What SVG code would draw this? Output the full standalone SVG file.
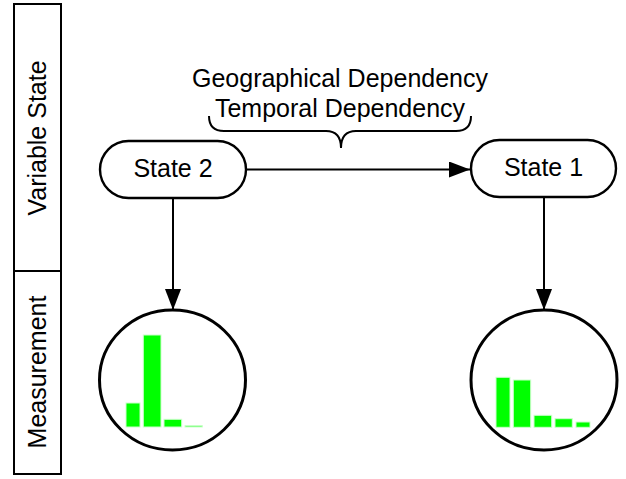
<svg xmlns="http://www.w3.org/2000/svg" width="626" height="479" viewBox="0 0 626 479">
<style>
.box{fill:#fff;stroke:#000;stroke-width:2}
.node{fill:#fff;stroke:#000;stroke-width:2.4}
.circ{fill:#fff;stroke:#000;stroke-width:3}
.lbl{font-family:"Liberation Sans",Arial,sans-serif;font-size:25px;fill:#000}
.bar{fill:#00ff00;stroke:#ccffcc;stroke-width:1}
.line{fill:none;stroke:#000;stroke-width:2}
</style>
<defs>
<marker id="ah" markerWidth="21" markerHeight="16" refX="21" refY="8" orient="auto" markerUnits="userSpaceOnUse">
<path d="M0,0 L21,8 L0,16 Z" fill="#000"/>
</marker>
</defs>
<g id="lane-variable-state">
<rect class="box" x="14" y="4" width="47" height="267"/>
<text class="lbl" transform="translate(46,138) rotate(-90)" text-anchor="middle">Variable State</text>
</g>
<g id="lane-measurement">
<rect class="box" x="14" y="271" width="47" height="203"/>
<text class="lbl" transform="translate(46,372) rotate(-90)" text-anchor="middle">Measurement</text>
</g>
<g id="dependency-label">
<text class="lbl" x="340" y="87" text-anchor="middle">Geographical Dependency</text>
<text class="lbl" x="340" y="117" text-anchor="middle">Temporal Dependency</text>
<path class="line" d="M209,116 Q209,131 224,131 L326,131 Q341,131 341,148 Q341,131 356,131 L456,131 Q471,131 471,116"/>
</g>
<g id="state2">
<rect class="node" x="100" y="141" width="146" height="57" rx="28.5" ry="28.5"/>
<text class="lbl" x="173" y="177" text-anchor="middle">State 2</text>
</g>
<g id="state1">
<rect class="node" x="471" y="140" width="145" height="57" rx="28.5" ry="28.5"/>
<text class="lbl" x="543.5" y="176" text-anchor="middle">State 1</text>
</g>
<g id="measurement2">
<ellipse class="circ" cx="172.5" cy="380" rx="73" ry="70"/>
<rect class="bar" x="126" y="403" width="14" height="24"/>
<rect class="bar" x="143.3" y="335" width="17.7" height="92"/>
<rect class="bar" x="164" y="419.3" width="17.7" height="7.7"/>
<rect class="bar" x="185" y="425.7" width="17.3" height="1.3"/>
</g>
<g id="measurement1">
<ellipse class="circ" cx="544" cy="380" rx="73" ry="70"/>
<rect class="bar" x="496" y="377.3" width="14" height="50"/>
<rect class="bar" x="513.3" y="380" width="17.4" height="47.3"/>
<rect class="bar" x="534" y="415.3" width="17.7" height="12"/>
<rect class="bar" x="555" y="418.7" width="17.3" height="8.6"/>
<rect class="bar" x="576" y="422" width="14" height="5.3"/>
</g>
<g id="connectors">
<line class="line" x1="246" y1="169.5" x2="470" y2="169.5" marker-end="url(#ah)"/>
<line class="line" x1="173" y1="198" x2="173" y2="310" marker-end="url(#ah)"/>
<line class="line" x1="544" y1="197" x2="544" y2="310" marker-end="url(#ah)"/>
</g>
</svg>
